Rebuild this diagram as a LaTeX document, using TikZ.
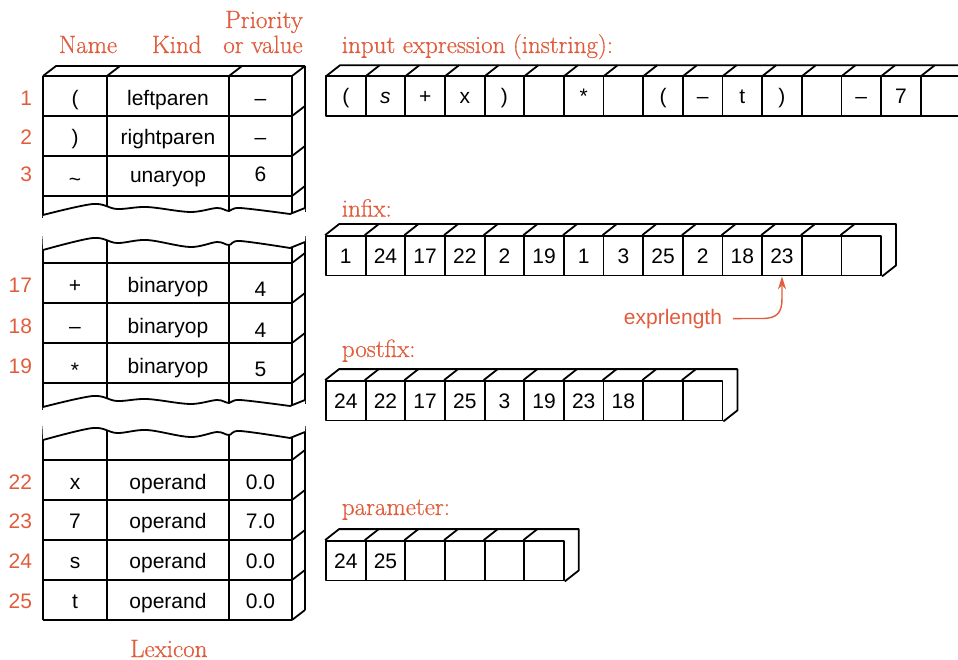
\documentclass[tikz,border=0pt]{standalone}
\usepackage{fontspec}
\setsansfont{Liberation Sans}
\newfontfamily\lblserif[FakeBold=0.6]{Latin Modern Roman}
\usetikzlibrary{arrows.meta}
\definecolor{accent}{RGB}{224,92,60}
\tikzset{
  cell/.style={draw, minimum width=39.65pt, minimum height=39.5pt, inner sep=0pt, text height=15pt, text depth=0pt, font=\sffamily\fontsize{21}{24}\selectfont},
  lex/.style={anchor=base, inner sep=0pt, font=\sffamily\fontsize{21}{24}\selectfont},
  rownum/.style={anchor=base east, inner sep=0pt, text=accent, font=\sffamily\fontsize{21}{24}\selectfont},
  lbl/.style={inner sep=0pt, text=accent, font=\lblserif\fontsize{25}{28}\selectfont},
  thickrow/.style={line width=2.4pt},
}
\newcommand{\acell}[4]{\node[cell] (#1-#2) at ({345.83+39.65*#2},#3) {#4};}
\newcommand{\botwave}[1]{\begin{scope}[shift={(0,#1)}]
 \fill[white] plot[smooth,tension=0.55] coordinates {(43,0) (93,-11) (117,-6) (147,-8) (190,-3) (217,-7) (229,-4) (240,-7) (290,-1)} -- (305,-7) -- (306,14) -- (42,14) -- cycle;
 \draw plot[smooth,tension=0.55] coordinates {(43,0) (93,-11) (117,-6) (147,-8) (190,-3) (217,-7) (229,-4) (240,-7) (290,-1)} -- (305,-7);
\end{scope}}
\newcommand{\topwave}[1]{\begin{scope}[shift={(0,#1)}]
 \fill[white] plot[smooth,tension=0.55] coordinates {(43,0) (93,-12) (117,-7) (147,-10) (190,-3) (217,-8) (229,-5) (240,-9) (290,-2)} -- (305,-8) -- (306,-22) -- (42,-22) -- cycle;
 \draw plot[smooth,tension=0.55] coordinates {(43,0) (93,-12) (117,-7) (147,-10) (190,-3) (217,-8) (229,-5) (240,-9) (290,-2)} -- (305,-8);
\end{scope}}
\begin{document}
\begin{tikzpicture}[x=1pt,y=-1pt,line width=1.8pt,line join=round]
\useasboundingbox (0,0) rectangle (958,660);
\clip (0,0) rectangle (958,660);

% ---------------- headers ----------------
\node[lbl,anchor=base] (hname) at (88,53) {Name};
\node[lbl,anchor=base] (hkind) at (176.7,53) {Kind};
\node[lbl,anchor=base] (hpri) at (264,28) {Priority};
\node[lbl,anchor=base] (hval) at (263,53) {or value};
\node[lbl,anchor=base] (lexicon) at (168.8,657) {Lexicon};

% ---------------- lexicon block 1 ----------------
\draw (43,76) -- (43,218) (107,76) -- (107,218) (229,76) -- (229,218) (292,76) -- (292,218) (305,66) -- (305,212);
\draw (43,76) -- (292,76) (43,116) -- (292,116) (43,156) -- (292,156) (43,196) -- (292,196);
\draw (43,76) -- (56,66) -- (305,66) (107,76) -- (120,66) (229,76) -- (242,66);
\foreach \y in {76,116,156,196} \draw (292,\y) -- (305,\y-10);
\botwave{215}

% ---------------- lexicon block 2 ----------------
\draw (43,236) -- (43,410) (107,236) -- (107,410) (229,236) -- (229,410) (292,236) -- (292,410) (305,236) -- (305,404);
\draw[thickrow] (43,263) -- (292,263);
\draw (43,303) -- (292,303) (43,343) -- (292,343) (43,383) -- (292,383);
\foreach \y in {263,303,343,383} \draw (292,\y) -- (305,\y-10);
\topwave{250}
\botwave{407}

% ---------------- lexicon block 3 ----------------
\draw (43,426) -- (43,620) (107,426) -- (107,620) (229,426) -- (229,620) (292,426) -- (292,620) (305,426) -- (305,610);
\draw[thickrow] (43,460) -- (292,460);
\draw (43,500) -- (292,500) (43,540) -- (292,540) (43,580) -- (292,580) (43,620) -- (292,620);
\foreach \y in {460,500,540,580,620} \draw (292,\y) -- (305,\y-10);
\topwave{440}

% ---------------- lexicon texts ----------------
\node[rownum] (r1) at (33,106) {1};
\node[lex] (nm1) at (75,106) {(};
\node[lex] (kd1) at (168,106) {leftparen};
\node[lex] (pv1) at (260.5,106) {–};
\node[rownum] (r2) at (33,145) {2};
\node[lex] (nm2) at (75,145) {)};
\node[lex] (kd2) at (168,145) {rightparen};
\node[lex] (pv2) at (260.5,145) {–};
\node[rownum] (r3) at (33,182) {3};
\node[lex] (nm3) at (75,187) {\textasciitilde};
\node[lex] (kd3) at (168,183) {unaryop};
\node[lex] (pv3) at (260.5,182) {6};

\node[rownum] (r17) at (33,293) {17};
\node[lex] (nm17) at (75,293) {+};
\node[lex] (kd17) at (168,293) {binaryop};
\node[lex] (pv17) at (260.5,297) {4};
\node[rownum] (r18) at (33,333) {18};
\node[lex] (nm18) at (75,333) {–};
\node[lex] (kd18) at (168,333) {binaryop};
\node[lex] (pv18) at (260.5,337) {4};
\node[rownum] (r19) at (33,373) {19};
\node[lex] (nm19) at (75,377) {*};
\node[lex] (kd19) at (168,373) {binaryop};
\node[lex] (pv19) at (260.5,376) {5};

\node[rownum] (r22) at (33,489) {22};
\node[lex] (nm22) at (75,489) {x};
\node[lex] (kd22) at (168,489) {operand};
\node[lex] (pv22) at (260.5,489) {0.0};
\node[rownum] (r23) at (33,528) {23};
\node[lex] (nm23) at (75,528) {7};
\node[lex] (kd23) at (168,528) {operand};
\node[lex] (pv23) at (260.5,528) {7.0};
\node[rownum] (r24) at (33,568) {24};
\node[lex] (nm24) at (75,568) {s};
\node[lex] (kd24) at (168,568) {operand};
\node[lex] (pv24) at (260.5,568) {0.0};
\node[rownum] (r25) at (33,608) {25};
\node[lex] (nm25) at (75,608) {t};
\node[lex] (kd25) at (168,608) {operand};
\node[lex] (pv25) at (260.5,608) {0.0};

% ---------------- arrays: labels ----------------
\node[lbl,anchor=base west] (linstr) at (341,53) {input expression (instring):};
\node[lbl,anchor=base west] (linfix) at (341,216.7) {infix:};
\node[lbl,anchor=base west] (lpost) at (341,357) {postfix:};
\node[lbl,anchor=base west] (lparam) at (341,515) {parameter:};

% ---------------- instring ----------------
\acell{in}{0}{96}{(} \acell{in}{1}{96}{\textit{s}} \acell{in}{2}{96}{+} \acell{in}{3}{96}{x}
\acell{in}{4}{96}{)} \acell{in}{5}{96}{} \acell{in}{6}{96}{*} \acell{in}{7}{96}{}
\acell{in}{8}{96}{(} \acell{in}{9}{96}{–} \acell{in}{10}{96}{t} \acell{in}{11}{96}{)}
\acell{in}{12}{96}{} \acell{in}{13}{96}{–} \acell{in}{14}{96}{7} \acell{in}{15}{96}{}
\draw (326,76.25) -- ++(14,-11) -- (980,65.25);
\foreach \i in {1,...,15} \draw ({326+39.65*\i},76.25) -- ++(14,-11);

% ---------------- infix ----------------
\acell{inf}{0}{255.75}{1} \acell{inf}{1}{255.75}{24} \acell{inf}{2}{255.75}{17} \acell{inf}{3}{255.75}{22}
\acell{inf}{4}{255.75}{2} \acell{inf}{5}{255.75}{19} \acell{inf}{6}{255.75}{1} \acell{inf}{7}{255.75}{3}
\acell{inf}{8}{255.75}{25} \acell{inf}{9}{255.75}{2} \acell{inf}{10}{255.75}{18} \acell{inf}{11}{255.75}{23}
\acell{inf}{12}{255.75}{} \acell{inf}{13}{255.75}{}
\draw (inf-0.north west) -- ++(14,-11) -- ([shift={(14,-11)}]inf-13.north east) -- ([shift={(14,-11)}]inf-13.south east) -- (inf-13.south east);
\foreach \i in {1,...,13} \draw (inf-\i.north west) -- ++(14,-11);

% ---------------- postfix ----------------
\acell{pf}{0}{400.75}{24} \acell{pf}{1}{400.75}{22} \acell{pf}{2}{400.75}{17} \acell{pf}{3}{400.75}{25}
\acell{pf}{4}{400.75}{3} \acell{pf}{5}{400.75}{19} \acell{pf}{6}{400.75}{23} \acell{pf}{7}{400.75}{18}
\acell{pf}{8}{400.75}{} \acell{pf}{9}{400.75}{}
\draw (pf-0.north west) -- ++(14,-11) -- ([shift={(14,-11)}]pf-9.north east) -- ([shift={(14,-11)}]pf-9.south east) -- (pf-9.south east);
\foreach \i in {1,...,9} \draw (pf-\i.north west) -- ++(14,-11);

% ---------------- parameter ----------------
\acell{pa}{0}{560.75}{24} \acell{pa}{1}{560.75}{25} \acell{pa}{2}{560.75}{} \acell{pa}{3}{560.75}{}
\acell{pa}{4}{560.75}{} \acell{pa}{5}{560.75}{}
\draw (pa-0.north west) -- ++(14,-11) -- ([shift={(14,-11)}]pa-5.north east) -- ([shift={(14,-11)}]pa-5.south east) -- (pa-5.south east);
\foreach \i in {1,...,5} \draw (pa-\i.north west) -- ++(14,-11);

% ---------------- exprlength arrow ----------------
\node[anchor=base west, inner sep=0pt, text=accent, font=\sffamily\fontsize{21}{24}\selectfont] (expr) at (623,324) {exprlength};
\coordinate (bend) at (782,298);
\draw[accent, line width=1.4pt, -{Stealth[length=13pt,width=8pt]}] ([xshift=10pt]expr.east) -- (762,318.5) .. controls (778,318.5) and (782,312) .. (bend) -- (inf-11.south);
\end{tikzpicture}
\end{document}
